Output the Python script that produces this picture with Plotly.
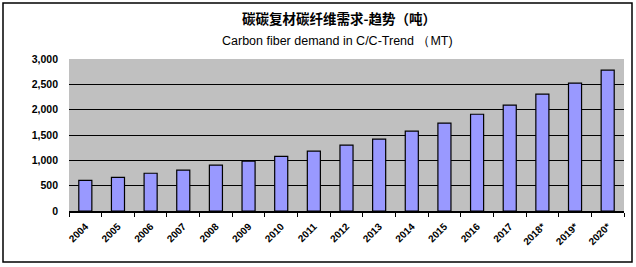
import plotly.graph_objects as go

years = ["2004", "2005", "2006", "2007", "2008", "2009", "2010", "2011", "2012",
         "2013", "2014", "2015", "2016", "2017", "2018*", "2019*", "2020*"]
demand = [605, 665, 745, 805, 905, 985, 1080, 1180, 1300,
          1420, 1575, 1735, 1910, 2090, 2305, 2525, 2780]
y_ticks = [0, 500, 1000, 1500, 2000, 2500, 3000]
title_cn = "碳碳复材碳纤维需求-趋势（吨）"
title_en = "Carbon fiber demand in C/C-Trend （MT)"

W, H = 636, 267
L, R, T, B = 69, 12, 59, 56
pw, ph = W - L - R, H - T - B

def px(x):
    return (x - L) / pw

def py(y):
    return (H - B - y) / ph

fig = go.Figure()
fig.add_trace(go.Bar(
    x=years, y=demand,
    marker=dict(color="#9999FF", line=dict(color="black", width=1.2)),
))

fig.update_layout(
    width=W, height=H,
    margin=dict(l=L, r=R, t=T, b=B),
    paper_bgcolor="white",
    plot_bgcolor="#C0C0C0",
    bargap=0.6,
    showlegend=False,
    font=dict(family="Liberation Sans, Arial, sans-serif", color="black"),
    xaxis=dict(
        type="category",
        tickangle=-45,
        tickfont=dict(size=10, family="Liberation Sans", weight="bold"),
        showline=True, linecolor="black", linewidth=1.5,
        ticks="outside", ticklen=4, tickcolor="black",
        tickson="boundaries",
        ticklabelstandoff=4,
        showgrid=False,
        range=[-0.5, len(years) - 0.5],
    ),
    yaxis=dict(
        range=[0, 3000],
        tickvals=y_ticks,
        tickformat=",",
        tickfont=dict(size=10.5, family="Liberation Sans", weight="bold"),
        showgrid=True, gridcolor="black", gridwidth=1,
        showline=False,
        ticks="",
        ticklabelstandoff=10,
        zeroline=False,
    ),
    annotations=[
        dict(text="<b>" + title_cn + "</b>", x=px(339), y=py(18), xref="paper", yref="paper",
             showarrow=False, font=dict(size=13.5, family="Noto Sans CJK SC"),
             xanchor="center", yanchor="middle"),
        dict(text=title_en, x=px(337), y=py(41), xref="paper", yref="paper",
             showarrow=False, font=dict(size=12.5, family="Liberation Sans"),
             xanchor="center", yanchor="middle"),
    ],
    shapes=[
        dict(type="rect", xref="paper", yref="paper",
             x0=px(3), x1=px(632), y0=py(262), y1=py(3),
             line=dict(color="black", width=1.5), layer="below"),
    ],
)

fig.write_html("out.html")
